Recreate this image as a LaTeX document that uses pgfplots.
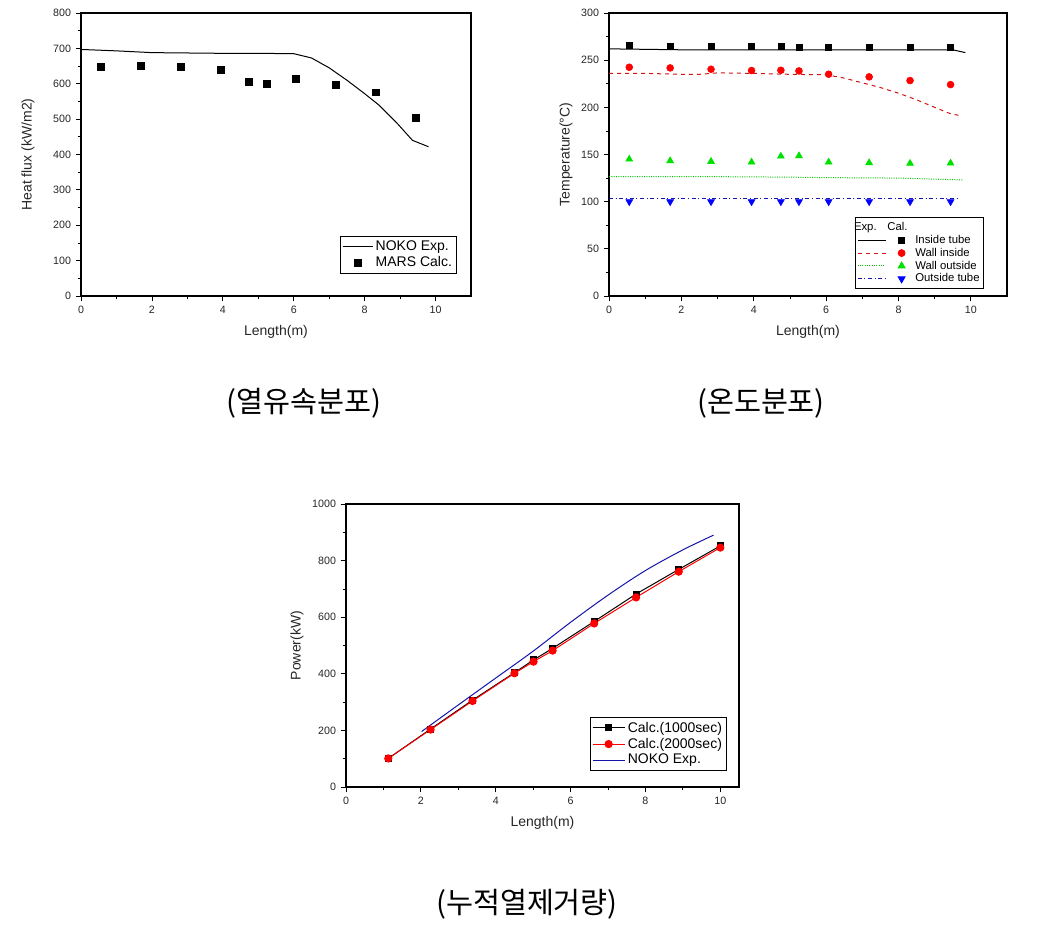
\documentclass[border=0pt]{standalone}
\usepackage{fontspec}
\setmainfont{Liberation Sans}
\newfontfamily\cjk{Noto Sans CJK KR}
\usepackage{pgfplots}
\pgfplotsset{compat=1.18}
\definecolor{dred}{RGB}{210,20,20}
\definecolor{lgreen}{RGB}{0,225,0}
\definecolor{dgreen}{RGB}{0,190,0}
\definecolor{navy}{RGB}{20,20,170}
\pgfplotsset{
  orig/.style={
    scale only axis,
    axis line style={line width=0.8pt},
    tick align=outside,
    tick pos=left,
    minor tick num=1,
    major tick length=4pt, minor tick length=2.5pt,
    every tick/.style={black, line width=0.6pt},
    tick label style={font=\fontsize{8}{9}\selectfont, text=black!85},
    /pgf/number format/assume math mode=true,
    /pgf/number format/set thousands separator={},
    label style={font=\fontsize{10.5}{12}\selectfont, text=black!85},
    xlabel={Length(m)},
    xlabel style={at={(axis description cs:0.5,-0.127)},anchor=center},
    legend cell align=left,
    legend style={draw=black, line width=0.6pt, font=\fontsize{10.5}{12}\selectfont, inner sep=1.5pt, row sep=-1pt},
  }
}
\begin{document}
\begin{tikzpicture}
\useasboundingbox (0pt,0pt) rectangle (777.75pt,-699pt);

% ---------- Plot 1: heat flux ----------
\begin{axis}[orig, at={(60.75pt,-222pt)}, anchor=south west, width=292.5pt, height=212.25pt,
  xmin=0, xmax=11, ymin=0, ymax=800, xtick={0,2,...,10}, ytick={0,100,...,800},
  ylabel={Heat flux (kW/m2)},
  ylabel style={at={(axis description cs:-0.136,0.5)},anchor=center},
  legend style={at={(1,0)},anchor=south east,xshift=-10.5pt,yshift=16.5pt}]
\addplot[black, line width=0.75pt, legend image code/.code={\draw[draw=black,line width=0.75pt] (0pt,0pt)--(22.5pt,0pt);}]
 coordinates {(0,697) (1,693) (2,688) (3,687) (4,686) (5,686) (6,685) (6.5,673) (7,645) (7.5,610) (8,572) (8.4,540) (8.9,490) (9.35,440) (9.8,422)};
\addlegendentry{NOKO Exp.}
\addplot[only marks, mark=square*, mark size=2.6pt, black, legend image code/.code={\draw plot coordinates {(11.25pt,0pt)};}]
 coordinates {(0.56,647) (1.69,651) (2.82,647) (3.93,639) (4.74,605) (5.24,599) (6.06,613) (7.19,598) (8.32,576) (9.43,503)};
\addlegendentry{MARS Calc.}
\end{axis}

% ---------- Plot 2: temperature ----------
\begin{axis}[orig, at={(456.75pt,-222pt)}, anchor=south west, width=298.5pt, height=212.25pt,
  axis line style={line width=1.5pt},
  xmin=0, xmax=11, ymin=0, ymax=300, xtick={0,2,...,10}, ytick={0,50,...,300},
  ylabel={Temperature(°C)},
  ylabel style={at={(axis description cs:-0.108,0.5)},anchor=center},
  legend style={at={(1,0)},anchor=south east,xshift=-17.25pt,yshift=5.25pt, font=\fontsize{8.5}{10}\selectfont, row sep=-2pt, inner xsep=1pt}]
\addlegendimage{empty legend}
\addlegendentry{\makebox[0pt][l]{\hspace*{-46pt}Exp.\hspace*{8pt}Cal.}}
% lines
\addplot[black, line width=0.75pt, forget plot]
 coordinates {(0,262) (2,261) (4,261) (6,261) (8,261) (9.5,261) (9.85,258)};
\addplot[dred, line width=0.75pt, dashed, forget plot]
 coordinates {(0,236) (1,236) (2,235) (2.5,235) (3,236.5) (4,236) (5,235) (6,234.5) (6.5,231) (7,226) (7.5,221) (8,215) (8.5,208) (9,200) (9.45,193) (9.75,191)};
\addplot[dgreen, line width=0.75pt, densely dotted, forget plot]
 coordinates {(0,126.5) (3,126.5) (5,126) (6,125.5) (8,125) (9.8,123)};
\addplot[navy, line width=0.75pt, dash dot, forget plot]
 coordinates {(0,103) (5,103) (9.7,103)};
% markers
\addplot[only marks, mark=square*, mark size=2.2pt, black,
  legend image code/.code={\draw[draw=black,line width=0.75pt,solid] (0pt,0pt)--(21pt,0pt); \draw plot coordinates {(33pt,0pt)}; \path (41pt,0pt);}]
 coordinates {(0.56,265.5) (1.69,265) (2.82,264.5) (3.94,264.5) (4.75,264.5) (5.25,264) (6.07,264) (7.19,264) (8.32,264) (9.44,263.7)};
\addlegendentry{Inside tube}
\addplot[only marks, mark=*, mark size=2.6pt, red,
  legend image code/.code={\draw[draw=dred,line width=0.75pt,dashed] (0pt,0pt)--(21pt,0pt); \draw plot coordinates {(33pt,0pt)}; \path (41pt,0pt);}]
 coordinates {(0.56,242.5) (1.69,241.8) (2.82,240.4) (3.94,239) (4.75,239.3) (5.25,238.6) (6.07,235.1) (7.19,232.3) (8.32,228.4) (9.44,224.1)};
\addlegendentry{Wall inside}
\addplot[only marks, mark=triangle*, mark size=3pt, lgreen,
  legend image code/.code={\draw[draw=dgreen,line width=0.75pt,densely dotted] (0pt,0pt)--(21pt,0pt); \draw plot coordinates {(33pt,0pt)}; \path (41pt,0pt);}]
 coordinates {(0.56,145) (1.69,143.3) (2.82,142.6) (3.94,141.9) (4.75,148.2) (5.25,148.6) (6.07,141.9) (7.19,141.2) (8.32,140.5) (9.44,140.8)};
\addlegendentry{Wall outside}
\addplot[only marks, mark=triangle*, mark options={rotate=180}, mark size=3pt, blue,
  legend image code/.code={\draw[draw=navy,line width=0.75pt,dash dot] (0pt,0pt)--(21pt,0pt); \draw plot coordinates {(33pt,0pt)}; \path (41pt,0pt);}]
 coordinates {(0.56,100) (1.69,100) (2.82,100) (3.94,100) (4.75,100) (5.25,100) (6.07,100) (7.19,100) (8.32,100) (9.44,100)};
\addlegendentry{Outside tube}
\end{axis}

% ---------- Plot 3: power ----------
\begin{axis}[orig, at={(259.5pt,-590.25pt)}, anchor=south west, width=294.75pt, height=212.25pt,
  xmin=0, xmax=10.5, ymin=0, ymax=1000, xtick={0,2,...,10}, ytick={0,200,...,1000},
  ylabel={Power(kW)},
  ylabel style={at={(axis description cs:-0.125,0.5)},anchor=center},
  legend style={at={(1,0)},anchor=south east,xshift=-9pt,yshift=12pt}]
\addplot[black, line width=0.75pt, mark=square*, mark size=2.25pt,
  legend image code/.code={\draw[mark repeat=2,mark phase=2] plot coordinates {(0pt,0pt) (12pt,0pt) (24pt,0pt)};}]
 coordinates {(1.13,101) (2.26,205) (3.38,307) (4.50,404) (5.01,449) (5.52,490) (6.63,585) (7.75,682) (8.89,769) (10.0,852)};
\addlegendentry{Calc.(1000sec)}
\addplot[red, line width=0.75pt, mark=*, mark size=2.7pt,
  legend image code/.code={\draw[mark repeat=2,mark phase=2] plot coordinates {(0pt,0pt) (12pt,0pt) (24pt,0pt)};}]
 coordinates {(1.13,101) (2.26,203) (3.38,304) (4.50,402) (5.01,443) (5.52,482) (6.63,578) (7.75,670) (8.89,761) (10.0,846)};
\addlegendentry{Calc.(2000sec)}
\addplot[navy, line width=0.75pt, smooth,
  legend image code/.code={\draw (0pt,0pt)--(24pt,0pt);}]
 coordinates {(2.02,196) (3,290) (4,385) (5,480) (6,582) (7,678) (8,765) (9,838) (9.82,890)};
\addlegendentry{NOKO Exp.}
\end{axis}

% captions
\node[font=\cjk\fontsize{22}{24}\selectfont] at (228pt,-302.25pt) {(열유속분포)};
\node[font=\cjk\fontsize{22}{24}\selectfont] at (570.75pt,-302.25pt) {(온도분포)};
\node[font=\cjk\fontsize{22}{24}\selectfont] at (395.25pt,-678pt) {(누적열제거량)};
\end{tikzpicture}
\end{document}
